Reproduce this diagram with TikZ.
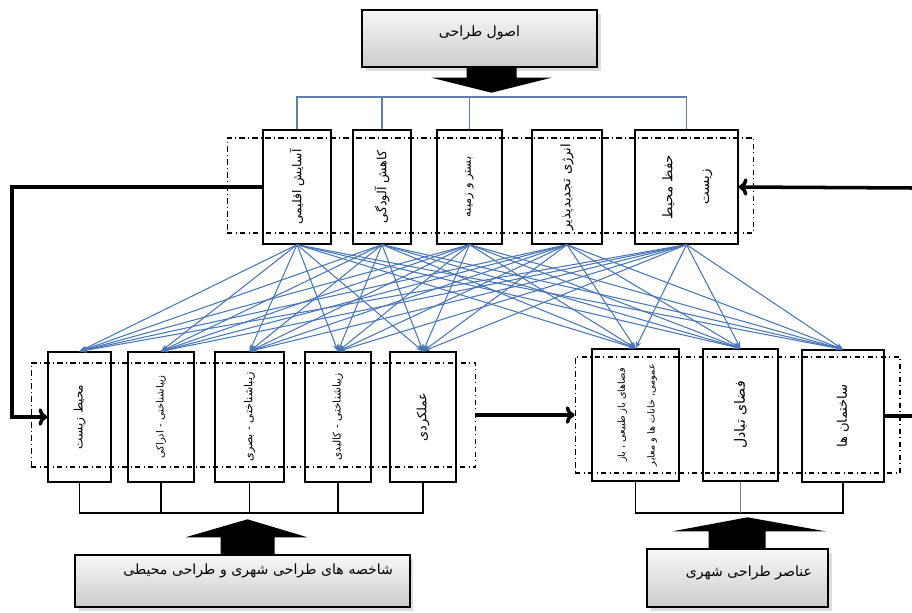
\documentclass[tikz,border=0pt]{standalone}
\usepackage{fontspec}
\newfontfamily\farsi[Script=Arabic]{DejaVu Sans}
\usetikzlibrary{arrows.meta,shadows}
\TeXXeTstate=1
\definecolor{fanblue}{RGB}{72,118,182}
\definecolor{treeblue}{RGB}{95,125,175}
\newcommand{\fa}[1]{\beginR #1\endR}
\newcommand{\vtext}[1]{\rotatebox{90}{#1}}

\begin{document}
\begin{tikzpicture}[x=0.02cm,y=-0.02cm,
  vbox/.style={draw, line width=0.8pt, inner sep=0pt, font=\farsi\fontsize{#1}{12}\selectfont},
  frame/.style={draw, dash dot, line width=0.6pt, inner sep=0pt},
  greybox/.style={draw, line width=0.8pt, top color=gray!6, bottom color=gray!40,
    drop shadow={shadow xshift=2pt, shadow yshift=-2pt, fill=gray!55},
    inner sep=0pt, font=\farsi\fontsize{8}{10}\selectfont},
  fanline/.style={fanblue, line width=0.6pt, -{Stealth[length=4pt,width=3pt]}},
  treeline/.style={treeblue, line width=0.7pt},
  thinline/.style={line width=0.7pt},
  bigarrow/.style={line width=2pt, -{Computer Modern Rightarrow[length=5pt,width=10pt]}}]

\useasboundingbox (0,0) rectangle (912,612);

% Dashed frames
\node[frame, minimum width=10.54cm, minimum height=1.9cm] (topframe) at (490.5,185.5) {};
\node[frame, minimum width=8.9cm, minimum height=2.08cm] (lframe) at (253.5,415) {};
\node[frame, minimum width=6.5cm, minimum height=2.32cm] (rframe) at (737.5,415) {};

% Top box
\node[greybox, minimum width=4.7cm, minimum height=1.14cm, text depth=8pt] (top) at (479.5,38.5) {\fa{اصول طراحی}};

% Principles row
\node[vbox=7, minimum width=1.36cm, minimum height=2.28cm] (t1) at (297,187) {\vtext{\fa{آسایش اقلیمی}}};
\node[vbox=7.2, minimum width=1.16cm, minimum height=2.28cm] (t2) at (382,187) {\vtext{\fa{کاهش آلودگی}}};
\node[vbox=6.5, minimum width=1.3cm, minimum height=2.28cm] (t3) at (469.5,187) {\vtext{\fa{بستر و زمینه}}};
\node[vbox=7.5, minimum width=1.4cm, minimum height=2.28cm] (t4) at (567,187) {\vtext{\fa{انرژی تجدیدپذیر}}};
\node[vbox=7.6, minimum width=2.06cm, minimum height=2.28cm] (t5) at (686.5,187)
  {\vtext{\begin{tabular}{@{}c@{}}\fa{حفظ محیط}\\[9pt]\fa{زیست}\end{tabular}}};

% Indicators row
\node[vbox=6.8, minimum width=1.26cm, minimum height=2.6cm] (b1) at (79.5,417) {\vtext{\fa{محیط زیست}}};
\node[vbox=5.7, minimum width=1.32cm, minimum height=2.6cm] (b2) at (161,417) {\vtext{\fa{زیباشناختی - ادراکی}}};
\node[vbox=6.3, minimum width=1.38cm, minimum height=2.6cm] (b3) at (249.5,417) {\vtext{\fa{زیباشناختی - بصری}}};
\node[vbox=6, minimum width=1.32cm, minimum height=2.6cm] (b4) at (338,417) {\vtext{\fa{زیباشناختی - کالبدی}}};
\node[vbox=7.3, minimum width=1.32cm, minimum height=2.6cm] (b5) at (423,417) {\vtext{\fa{عملکردی}}};

% Elements row
\node[vbox=5.5, minimum width=1.74cm, minimum height=2.64cm] (c1) at (635.5,415)
  {\vtext{\begin{tabular}{@{}c@{}}\fa{فضاهای باز طبیعی ، باز}\\[5pt]\fa{عمومی، خانات ها و معابر}\end{tabular}}};
\node[vbox=8, minimum width=1.5cm, minimum height=2.64cm] (c2) at (740.5,415) {\vtext{\fa{فضای تبادل}}};
\node[vbox=7.5, minimum width=1.64cm, minimum height=2.64cm] (c3) at (843,416) {\vtext{\fa{ساختمان ها}}};

% Bottom boxes
\node[greybox, minimum width=6.7cm, minimum height=1.04cm, text width=6.02cm, align=right, text depth=14pt] (lbox) at (242.5,581)
  {\fa{شاخصه های طراحی شهری و طراحی محیطی}};
\node[greybox, minimum width=3.62cm, minimum height=1.16cm, text width=2.98cm, align=right, text depth=8pt] (rbox) at (737.5,578)
  {\fa{عناصر طراحی شهری}};

% Block arrows
\fill[shift={(top.south)}] (-13,0) -- (37,0) -- (37,10) -- (72,10) -- (12,25) -- (-48,10) -- (-13,10) -- cycle;
\fill[shift={(lbox.north)}] (-22,0) -- (32,0) -- (32,-17) -- (65,-17) -- (5,-35) -- (-57,-17) -- (-22,-17) -- cycle;
\fill[shift={(rbox.north)}] (-29,0) -- (28,0) -- (28,-17) -- (88,-17) -- (10,-31) -- (-65,-17) -- (-29,-17) -- cycle;

% Tree under top box
\coordinate (treetop) at (0,97);
\draw[treeline] (t1.north) -- (t1.north |- treetop) -- (t5.north |- treetop) -- (t5.north);
\foreach \n in {t2,t3} {
    \draw[treeline] (\n.north) -- (\n.north |- treetop);
}

% Fan of links
\foreach \a in {t1,t2,t3,t4,t5} {
    \foreach \b in {b1,b2,b3,b4,b5,c1,c2,c3} {
        \draw[fanline] (\a.south) -- (\b.north);
    }
}

% Bottom connectors
\coordinate (bar) at (0,513);
\draw[thinline] (b1.south) -- (b1.south |- bar) -- (b5.south |- bar) -- (b5.south);
\foreach \n in {b2,b3,b4} {
    \draw[thinline] (\n.south) -- (\n.south |- bar);
}
\draw[thinline] (c1.south) -- (c1.south |- bar) -- (c3.south |- bar) -- (c3.south);
\draw[thinline, gray] (c2.south) -- (c2.south |- bar);

% Thick arrows
\coordinate (lturn) at (12,300);
\coordinate (rin) at (912,188);
\coordinate (rout) at (912,416);
\draw[bigarrow] (t1.west) -| (lturn) |- (b1.west);
\draw[bigarrow] (rin) -- (t5.east);
\draw[bigarrow] (lframe.east) -- (rframe.west);
\draw[line width=2pt] (c3.east) -- (rout);

\end{tikzpicture}
\end{document}
